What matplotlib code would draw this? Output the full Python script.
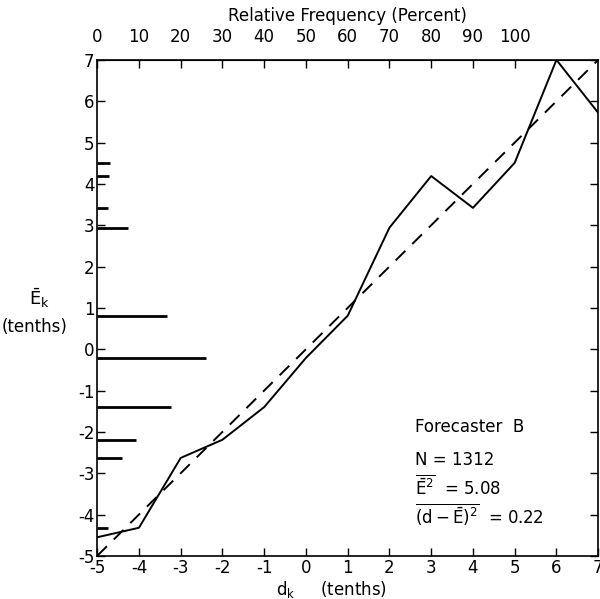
import matplotlib.pyplot as plt
import numpy as np

# forecast categories d_k (tenths) and mean observed E_k (tenths)
d_k = [-5, -4, -3, -2, -1, 0, 1, 2, 3, 4, 5, 6, 7]
e_k = [-4.55, -4.32, -2.63, -2.19, -1.40, -0.21, 0.81, 2.94, 4.19, 3.42, 4.51, 7.0, 5.72]

# relative frequency (percent) of each forecast, drawn as bars at E_k
freq = [0, 2.6, 6.0, 9.2, 17.7, 26.0, 16.8, 7.4, 2.8, 2.6, 3.1, 0, 0]

x_ticks = list(range(-5, 8))
y_ticks = list(range(-5, 8))
pct_ticks = list(range(0, 101, 10))

fig = plt.figure(figsize=(6, 5.99), dpi=100)
ax = fig.add_axes([0.162, 0.072, 0.835, 0.828])

# histogram bars from the left axis (10 percent = 1 tenth on x)
for y, f in zip(e_k, freq):
    if f > 0:
        ax.plot([-5, -5 + f / 10.0], [y, y], color='black', lw=2, solid_capstyle='butt')

ax.plot(d_k, e_k, color='black', lw=1.4)
ax.plot([-5, 7], [-5, 7], color='black', lw=1.4, dashes=(7, 5))

ax.set_xlim(-5, 7)
ax.set_ylim(-5, 7)
ax.set_xticks(x_ticks)
ax.set_yticks(y_ticks)
ax.set_xticklabels([str(v) for v in x_ticks], fontsize=12)
ax.set_yticklabels([str(v) for v in y_ticks], fontsize=12)
ax.tick_params(direction='in', length=6, width=1, right=True, pad=2)

top = ax.secondary_xaxis('top', functions=(lambda x: (x + 5) * 10, lambda p: p / 10 - 5))
top.set_xticks(pct_ticks)
top.set_xticklabels([str(v) for v in pct_ticks], fontsize=12)
top.tick_params(direction='in', length=6, width=1, pad=10)
top.set_xlabel('Relative Frequency (Percent)', fontsize=12, labelpad=5)

for s in ax.spines.values():
    s.set_linewidth(1.2)

ax.text(0.467, -0.068, r'$\mathregular{d_k}$     (tenths)', transform=ax.transAxes,
        ha='center', va='center', fontsize=12)
ax.text(-0.115, 0.52, r'$\mathregular{\bar{E}_k}$', transform=ax.transAxes,
        ha='center', va='center', fontsize=13)
ax.text(-0.125, 0.462, '(tenths)', transform=ax.transAxes,
        ha='center', va='center', fontsize=12)

ax.text(2.62, -1.88, 'Forecaster  B', fontsize=12, va='center')
ax.text(2.62, -2.68, 'N = 1312', fontsize=12, va='center')
ax.text(2.62, -3.33, r'$\mathregular{\overline{\bar{E}^2}}$  = 5.08', fontsize=12, va='center')
ax.text(2.62, -4.0, r'$\mathregular{\overline{(d-\bar{E})^2}}$  = 0.22', fontsize=12, va='center')

fig.savefig('out.png', dpi=100)
